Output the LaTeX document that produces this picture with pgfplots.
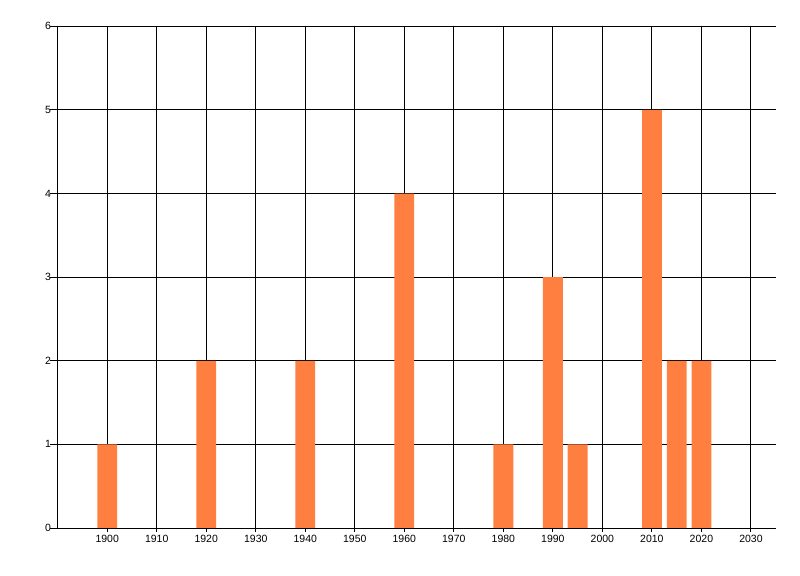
\documentclass[border=0pt]{standalone}
\usepackage{pgfplots}
\pgfplotsset{compat=1.18}
\usepackage{fontspec}
\setmainfont{Liberation Sans}
\definecolor{barorange}{HTML}{FF7F40}
\begin{document}
\begin{tikzpicture}
\useasboundingbox (-57.7bp,-48bp) rectangle (742.3bp,528bp);
\begin{axis}[
    at={(0,0)}, anchor=south west,
    scale only axis,
    width=718bp, height=501.7bp,
    xmin=1890, xmax=2035,
    ymin=0, ymax=6,
    axis x line=bottom, axis y line=left,
    axis line style={-, line width=1bp, black},
    xtick={1900,1910,...,2030},
    ytick={0,1,...,6},
    grid=major,
    major grid style={line width=1bp, black},
    xtick style={line width=1bp, black, /pgfplots/major tick length=4bp},
    ytick style={line width=1bp, black, /pgfplots/major tick length=8bp},
    tick align=outside,
    xticklabel style={/pgf/number format/1000 sep={}, font=\fontsize{10.5bp}{12bp}\selectfont, yshift=1bp},
    yticklabel style={font=\fontsize{10.5bp}{12bp}\selectfont, xshift=1bp},
    /pgf/number format/assume math mode=true,
    ybar, bar width=4,
    bar shift=0pt,
]
\addplot[fill=barorange, draw=none] coordinates {
    (1900,1) (1920,2) (1940,2) (1960,4) (1980,1)
    (1990,3) (1995,1) (2010,5) (2015,2) (2020,2)
};
\end{axis}
\end{tikzpicture}
\end{document}
